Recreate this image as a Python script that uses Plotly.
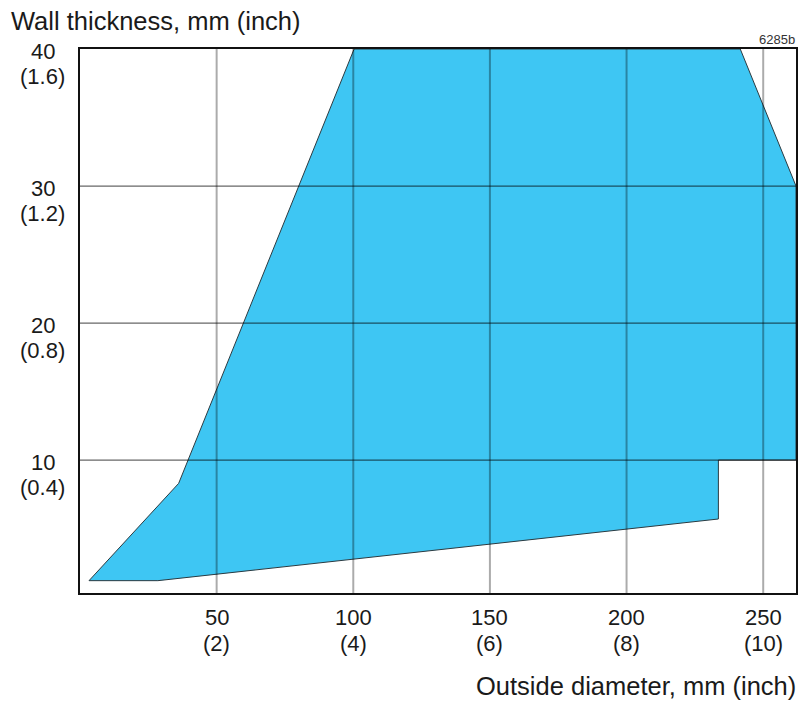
import plotly.graph_objects as go

# Outline of the shaded working range (outside diameter mm, wall thickness mm)
outline_x = [3.3, 36.1, 100.3, 241.6, 262.0, 262.0, 233.6, 233.6, 28.5, 3.3]
outline_y = [1.2, 8.3, 40.0, 40.0, 30.0, 10.0, 10.0, 5.7, 1.2, 1.2]

x_ticks = [50, 100, 150, 200, 250]
x_tick_mm = ["50", "100", "150", "200", "250"]
x_tick_inch = ["(2)", "(4)", "(6)", "(8)", "(10)"]
y_ticks = [0, 10, 20, 30, 40]
y_tick_mm = ["0", "10", "20", "30", "40"]
y_tick_inch = ["", "(0.4)", "(0.8)", "(1.2)", "(1.6)"]

FONT = "Liberation Sans, Arial, sans-serif"
FS_TICK = 22
FS_TITLE = 25.5
TXT = "#1a1a1a"

fig = go.Figure()
fig.add_trace(go.Scatter(
    x=outline_x, y=outline_y, mode="lines", fill="toself",
    fillcolor="#3EC6F3", line=dict(color="#2b3a40", width=1),
    hoverinfo="skip", showlegend=False,
))

shapes = []
for xv in x_ticks:
    shapes.append(dict(type="line", xref="x", yref="paper", x0=xv, x1=xv, y0=0, y1=1,
                       line=dict(color="rgba(0,0,0,0.33)", width=2), layer="above"))
for yv in y_ticks:
    if 0 < yv < 40:
        shapes.append(dict(type="line", xref="paper", yref="y", x0=0, x1=1, y0=yv, y1=yv,
                           line=dict(color="rgba(0,0,0,0.6)", width=1.3), layer="above"))


def tick_note(**kw):
    base = dict(showarrow=False, xanchor="center", yanchor="middle", borderpad=0,
                font=dict(family=FONT, size=FS_TICK, color=TXT))
    base.update(kw)
    return base


annotations = []
for yv, mm, inch in zip(y_ticks, y_tick_mm, y_tick_inch):
    annotations.append(tick_note(xref="paper", yref="y", x=0, y=yv, xshift=-37,
                                 yshift=-2, text=mm))
    if inch:
        annotations.append(tick_note(xref="paper", yref="y", x=0, y=yv, xshift=-38,
                                     yshift=-27.5, text=inch))
for xv, mm, inch in zip(x_ticks, x_tick_mm, x_tick_inch):
    annotations.append(tick_note(xref="x", yref="paper", x=xv, y=0, yshift=-24.5, text=mm))
    annotations.append(tick_note(xref="x", yref="paper", x=xv, y=0, yshift=-50, text=inch))

annotations.append(dict(xref="paper", yref="paper", x=0, y=1, xshift=-71, yshift=28,
                        xanchor="left", yanchor="middle", text="Wall thickness, mm (inch)",
                        showarrow=False, font=dict(family=FONT, size=FS_TITLE, color=TXT)))
annotations.append(dict(xref="paper", yref="paper", x=1, y=0, xshift=2, yshift=-93,
                        xanchor="right", yanchor="middle", text="Outside diameter, mm (inch)",
                        showarrow=False, font=dict(family=FONT, size=FS_TITLE, color=TXT)))
annotations.append(dict(xref="paper", yref="paper", x=1, y=1, xshift=1, yshift=10,
                        xanchor="right", yanchor="middle", text="6285b", showarrow=False,
                        font=dict(family=FONT, size=13, color="#333")))

fig.update_layout(
    width=800, height=704,
    margin=dict(l=80, r=2, t=49, b=111),
    paper_bgcolor="white", plot_bgcolor="white",
    font=dict(family=FONT, size=FS_TICK, color=TXT),
    xaxis=dict(range=[0, 262], showticklabels=False,
               showgrid=False, zeroline=False, showline=True, linecolor="#111",
               linewidth=2, mirror=True, ticks=""),
    yaxis=dict(range=[0.3, 40], showticklabels=False,
               showgrid=False, zeroline=False, showline=True, linecolor="#111",
               linewidth=2, mirror=True, ticks=""),
    shapes=shapes, annotations=annotations,
)

fig.write_html("out.html", config={"displayModeBar": False},
               post_script="document.body.style.margin='0';")
